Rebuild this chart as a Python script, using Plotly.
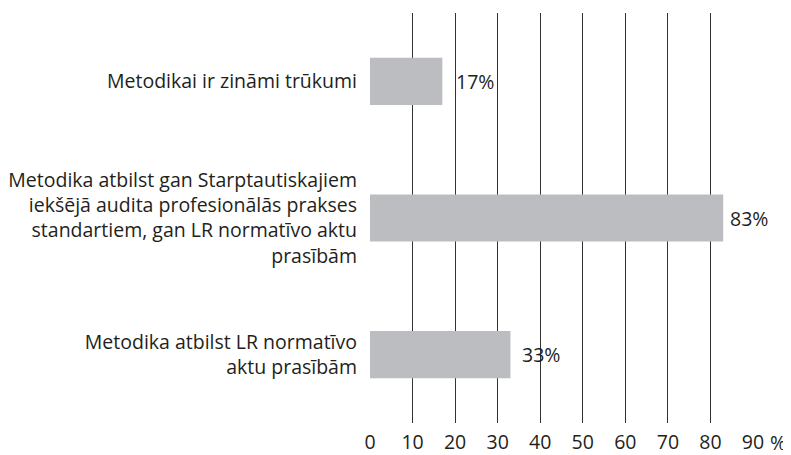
import plotly.graph_objects as go

categories = [
    "Metodikai ir zināmi trūkumi",
    "Metodika atbilst gan Starptautiskajiem<br>iekšējā audita profesionālās prakses<br>standartiem, gan LR normatīvo aktu<br>prasībām",
    "Metodika atbilst LR normatīvo<br>aktu prasībām",
]
values = [17, 83, 33]
value_labels = ["17%", "83%", "33%"]
tick_vals = [0, 10, 20, 30, 40, 50, 60, 70, 80, 90]
tick_text = ["0", "10", "20", "30", "40", "50", "60", "70", "80", "90"]

label_shift = [12, 5, 10]

FONT = "'Open Sans', sans-serif"
TXT = "#231f20"
FS = 19.5

fig = go.Figure()
fig.add_trace(go.Bar(
    x=values, y=categories, orientation="h",
    marker=dict(color="#bcbdc1", line=dict(width=0)),
    hoverinfo="skip",
))

for v, lab, c, s in zip(values, value_labels, categories, label_shift):
    fig.add_annotation(x=v, y=c, text=lab, showarrow=False, xanchor="left",
                       xshift=s, font=dict(family=FONT, size=FS, color=TXT))

fig.add_annotation(xref="paper", yref="paper", x=1.066, y=0, yshift=-19.5,
                   text="%", showarrow=False, xanchor="center", yanchor="middle",
                   borderpad=0, font=dict(family=FONT, size=FS, color=TXT))

fig.update_layout(
    width=783, height=447,
    margin=dict(l=362, r=38.3, t=5.3, b=32.3, autoexpand=False),
    paper_bgcolor="white", plot_bgcolor="white",
    bargap=0.655,
    showlegend=False,
    font=dict(family=FONT, size=FS, color=TXT),
    xaxis=dict(range=[0, 90], tickmode="array", tickvals=tick_vals, ticktext=tick_text,
               showgrid=True, gridcolor="#333333", gridwidth=1, zeroline=False,
               showline=False, ticks="", ticklabelstandoff=5, automargin=False,
               tickfont=dict(family=FONT, size=FS, color=TXT)),
    yaxis=dict(autorange="reversed", showgrid=False, zeroline=False, showline=False,
               ticks="", ticklabelstandoff=12, automargin=False,
               tickfont=dict(family=FONT, size=FS, color=TXT)),
)

fig.write_html("out.html")
